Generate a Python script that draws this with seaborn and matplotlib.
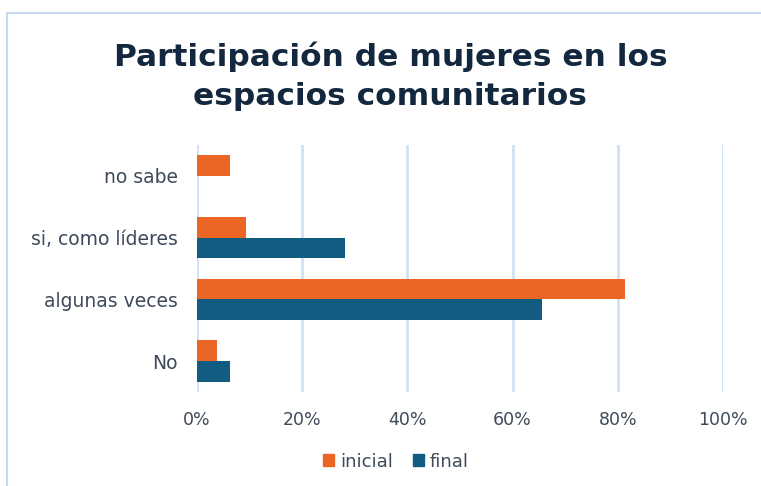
import matplotlib
matplotlib.use("Agg")
import matplotlib.pyplot as plt
import pandas as pd
import seaborn as sns
from matplotlib.patches import Rectangle
from matplotlib.ticker import PercentFormatter

categories = ["no sabe", "si, como líderes", "algunas veces", "No"]
inicial = [6.2, 9.3, 81.3, 3.8]
final = [0.0, 28.1, 65.6, 6.2]
series = ["inicial", "final"]
x_ticks = [0, 20, 40, 60, 80, 100]

df = pd.DataFrame({
    "categoria": categories * 2,
    "serie": ["inicial"] * len(categories) + ["final"] * len(categories),
    "valor": inicial + final,
})

sns.set_theme(style="white")
plt.rcParams["font.family"] = ["DejaVu Sans"]

text_col = "#3e4a5a"
grid_col = "#cfe1f4"

fig = plt.figure(figsize=(7.61, 4.86), dpi=100)
ax = fig.add_axes([197 / 761, 1 - 392 / 486, 526 / 761, 247 / 486])

sns.barplot(data=df, y="categoria", x="valor", hue="serie", order=categories,
            hue_order=series, palette=["#eb6624", "#125c82"], orient="h",
            width=0.67, ax=ax, saturation=1, legend=False, linewidth=0)

ax.set_xlim(0, 100)
ax.set_xticks(x_ticks)
ax.xaxis.set_major_formatter(PercentFormatter(decimals=0))
ax.grid(axis="x", color=grid_col, linewidth=2)
ax.set_axisbelow(True)
for s in ax.spines.values():
    s.set_visible(False)
ax.tick_params(axis="both", length=0, labelcolor=text_col)
ax.tick_params(axis="x", pad=14, labelsize=12.5)
ax.tick_params(axis="y", pad=14, labelsize=13.5)
ax.set_xlabel("")
ax.set_ylabel("")

fig.text(0.513, 0.843, "Participación de mujeres en los\nespacios comunitarios",
         ha="center", va="center", fontsize=22.5, fontweight="bold",
         color="#13283f", linespacing=1.45)

# legend
handles = [Rectangle((0, 0), 1, 1, color=c) for c in ["#eb6624", "#125c82"]]
fig.legend(handles, series, loc="center", bbox_to_anchor=(0.52, 0.05), ncol=2,
           frameon=False, fontsize=13, labelcolor=text_col, handlelength=0.65,
           handleheight=0.65, handletextpad=0.3, columnspacing=1.1)

# chart border
fig.patches.append(Rectangle((7 / 761, -0.01), 1.0, 0.01 + 1 - 13 / 486,
                             transform=fig.transFigure, fill=False,
                             edgecolor="#c6d9ee", linewidth=1.5))

fig.savefig("out.png", dpi=100)
